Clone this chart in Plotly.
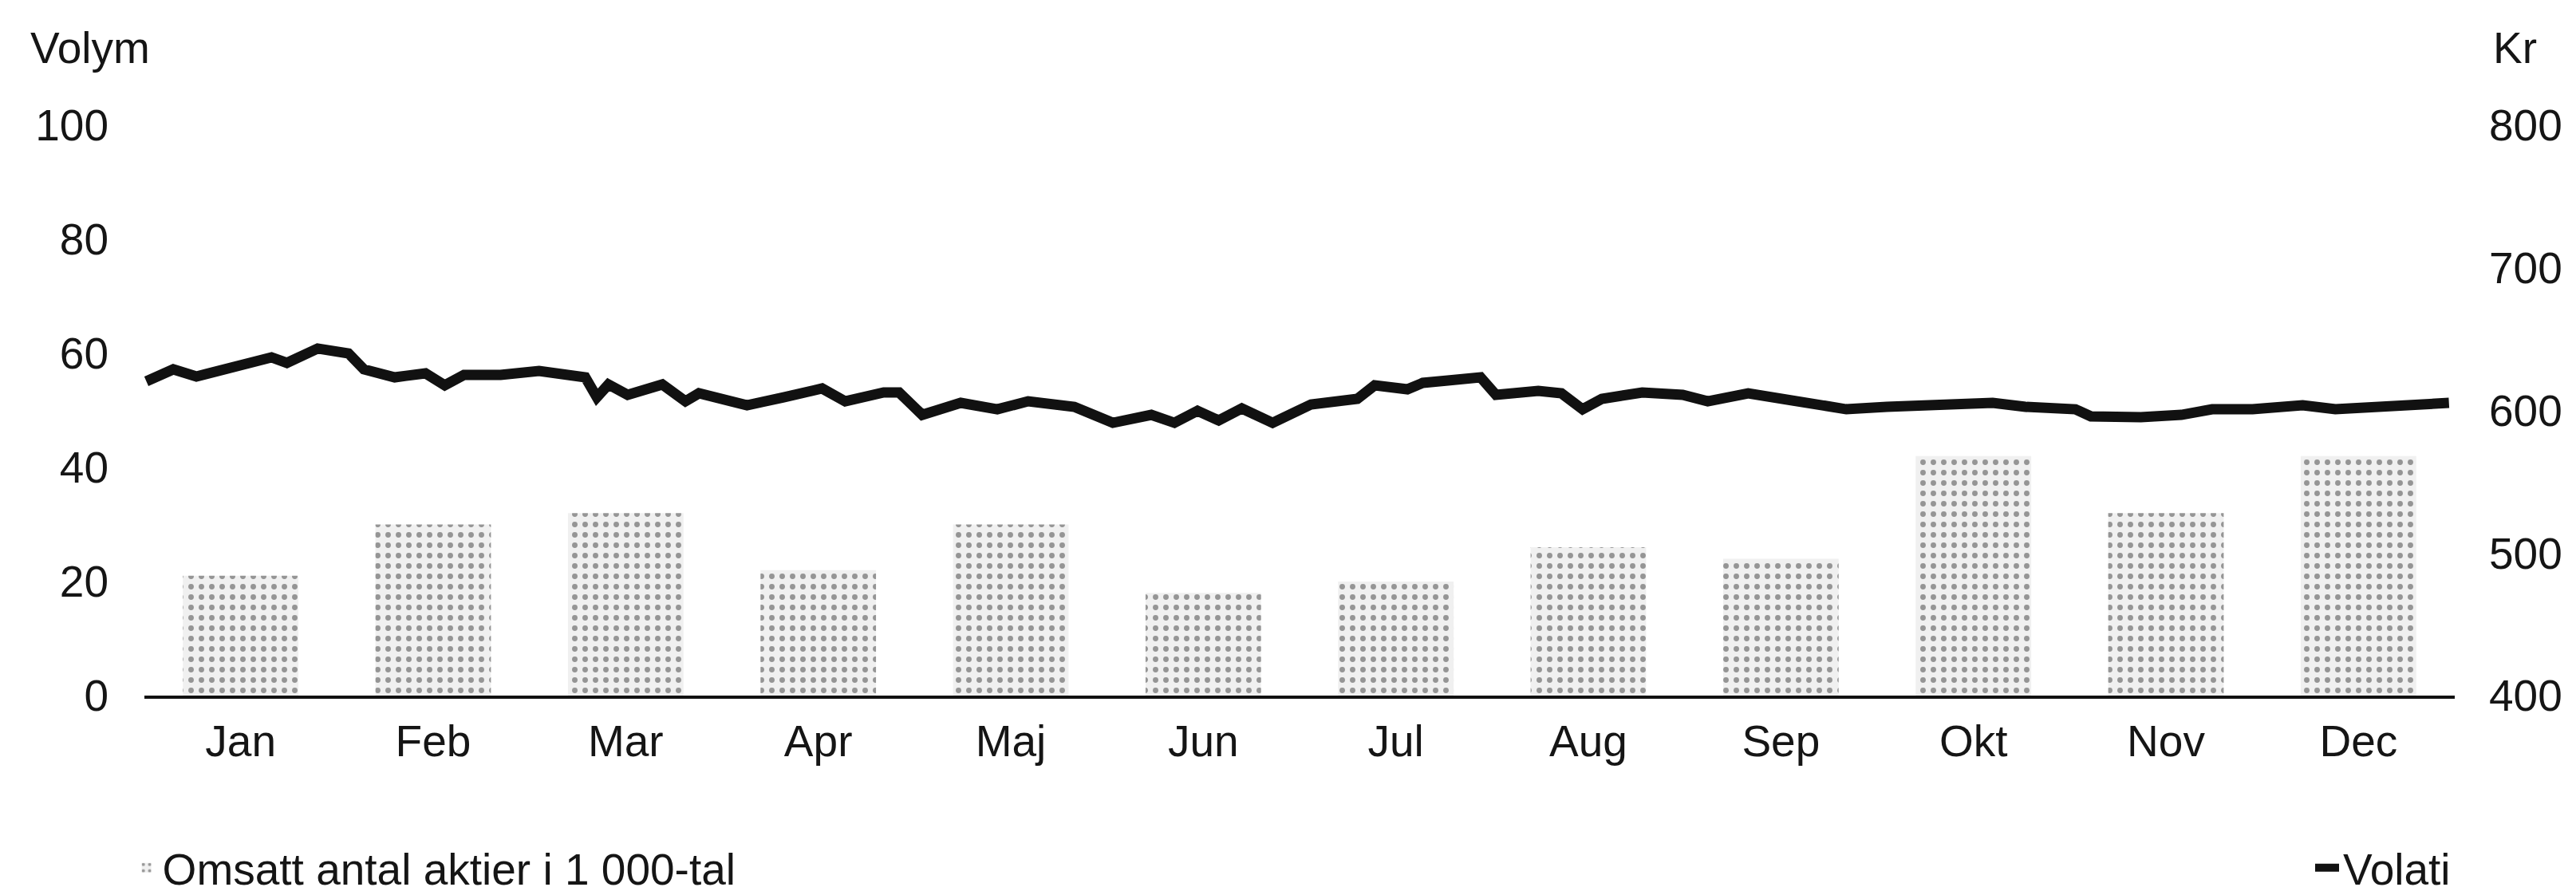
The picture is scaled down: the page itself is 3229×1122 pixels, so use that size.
import plotly.graph_objects as go

# Månader och omsatt volym (tusental aktier) per månad
manader = ["Jan", "Feb", "Mar", "Apr", "Maj", "Jun",
           "Jul", "Aug", "Sep", "Okt", "Nov", "Dec"]
volym = [21, 30, 32, 22, 30, 18, 20, 26, 24, 42, 32, 42]

# Aktiekurs (Kr), läst av från bilden; tid i månader från årets början
kurs_tid = [0.01, 0.15, 0.27, 0.47, 0.66, 0.74, 0.90, 1.06, 1.14, 1.30,
            1.46, 1.56, 1.66, 1.85, 2.05, 2.29, 2.35, 2.41, 2.51, 2.69,
            2.81, 2.88, 3.13, 3.32, 3.52, 3.64, 3.84, 3.92, 4.04, 4.24,
            4.43, 4.59, 4.83, 5.03, 5.23, 5.35, 5.47, 5.58, 5.70, 5.86,
            6.06, 6.30, 6.39, 6.56, 6.64, 6.77, 6.94, 7.02, 7.24, 7.36,
            7.47, 7.57, 7.78, 7.99, 8.12, 8.33, 8.50, 8.67, 8.84, 9.05,
            9.26, 9.60, 9.77, 10.03, 10.11, 10.37, 10.58, 10.74, 10.95, 11.21,
            11.38, 11.59, 11.80, 11.97]
kurs_kr = [620.4, 628.8, 623.8, 630.5, 637.2, 633.3, 643.4, 640.0, 628.8, 623.2,
           626.0, 617.6, 624.9, 624.9, 627.7, 623.2, 609.2, 618.2, 610.9, 618.2,
           606.4, 612.0, 603.6, 609.2, 615.4, 606.4, 612.6, 612.6, 596.9, 605.3,
           600.8, 606.4, 602.5, 591.3, 596.9, 591.3, 599.7, 593.0, 601.4, 591.3,
           604.2, 608.1, 617.6, 614.8, 619.3, 621.0, 623.2, 610.9, 613.7, 612.0,
           600.8, 608.1, 612.6, 610.9, 606.4, 612.0, 608.1, 604.2, 600.8, 602.5,
           604.2, 605.3, 602.5, 600.8, 595.8, 595.2, 596.9, 600.8, 600.8, 603.6,
           600.8, 602.5, 604.2, 605.3]

mitt = [i + 0.5 for i in range(len(manader))]

fig = go.Figure()

fig.add_trace(go.Bar(
    x=mitt,
    y=volym,
    width=0.6,
    name="Omsatt antal aktier i 1 000-tal",
    legend="legend",
    marker=dict(
        color="#f0f0f0",
        line_width=0,
        pattern=dict(shape=".", fgcolor="#3a3a3a", bgcolor="#f0f0f0",
                     size=13, solidity=0.22, fillmode="overlay"),
    ),
))

fig.add_trace(go.Scatter(
    x=kurs_tid,
    y=kurs_kr,
    mode="lines",
    name="Volati",
    legend="legend2",
    yaxis="y2",
    line=dict(color="#111111", width=13),
))

# sidan har 8 px marginal i webbläsaren, därför lite mindre figur
fig.update_layout(
    width=3221,
    height=1114,
    margin=dict(l=173, r=152, t=149, b=250, autoexpand=False),
    plot_bgcolor="white",
    paper_bgcolor="white",
    font=dict(family="Liberation Sans, Arial, sans-serif", size=55, color="#151515"),
    showlegend=True,
    xaxis=dict(
        range=[0, 12],
        tickvals=mitt,
        ticktext=manader,
        showgrid=False,
        zeroline=False,
        showline=True,
        linecolor="#111111",
        linewidth=4,
        ticks="",
        ticklabelstandoff=6,
    ),
    yaxis=dict(
        range=[0, 100],
        tickvals=[0, 20, 40, 60, 80, 100],
        showgrid=False,
        zeroline=False,
        showline=False,
        ticks="",
        ticklabelstandoff=44,
    ),
    yaxis2=dict(
        range=[400, 800],
        tickvals=[400, 500, 600, 700, 800],
        overlaying="y",
        side="right",
        showgrid=False,
        zeroline=False,
        showline=False,
        ticks="",
        ticklabelstandoff=42,
    ),
    legend=dict(
        orientation="h",
        x=-0.006, xanchor="left",
        y=-0.302, yanchor="middle",
        bgcolor="rgba(0,0,0,0)",
        font=dict(size=55),
    ),
    legend2=dict(
        orientation="h",
        x=1.0, xanchor="right",
        y=-0.302, yanchor="middle",
        bgcolor="rgba(0,0,0,0)",
        font=dict(size=55),
    ),
    annotations=[
        dict(text="Volym", xref="paper", yref="paper", x=-0.05, y=1.135,
             xanchor="left", yanchor="middle", showarrow=False),
        dict(text="Kr", xref="paper", yref="paper", x=1.016, y=1.135,
             xanchor="left", yanchor="middle", showarrow=False),
    ],
)

fig.write_html("out.html")
